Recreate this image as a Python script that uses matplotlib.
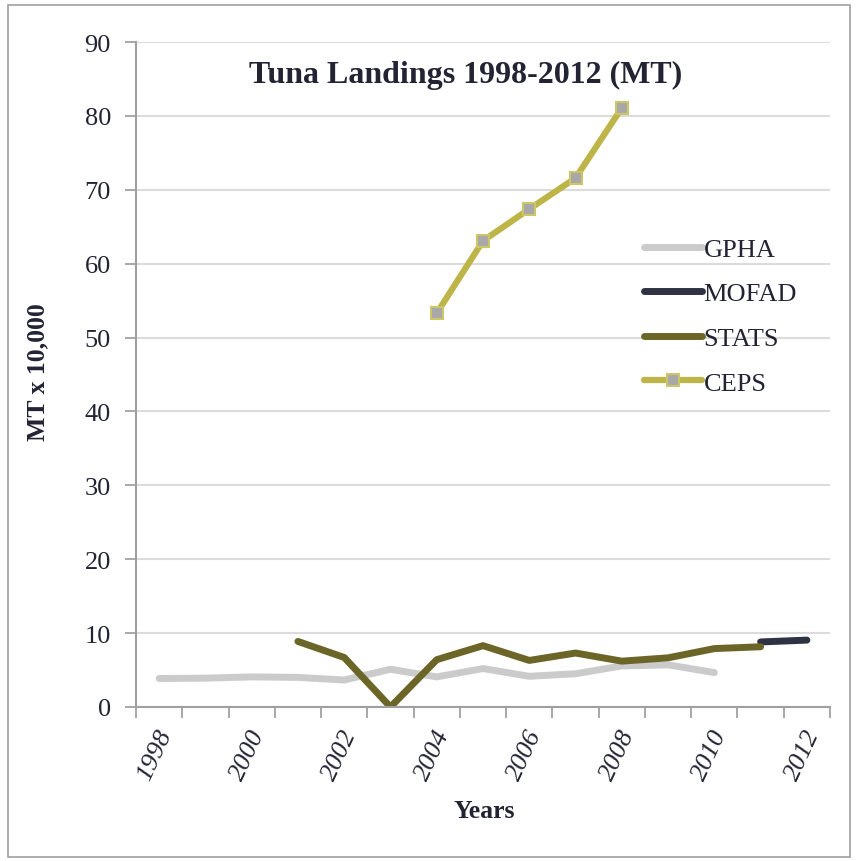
import numpy as np
import matplotlib.pyplot as plt
from matplotlib.patches import Rectangle

plt.rcParams['font.family'] = ['Liberation Serif', 'DejaVu Serif']

years = list(range(1998, 2013))
gpha = [3.85, 3.9, 4.07, 4.0, 3.65, 5.1, 4.07, 5.2, 4.15, 4.5, 5.55, 5.7, 4.65, None, None]
mofad = [None] * 13 + [8.8, 9.05]
stats = [None, None, None, 8.87, 6.7, 0.0, 6.4, 8.3, 6.3, 7.3, 6.2, 6.65, 7.9, 8.15, None]
ceps = [None] * 6 + [53.3, 63.1, 67.4, 71.6, 81.1, None, None, None, None]

def arr(v):
    return np.array([np.nan if a is None else a for a in v], dtype=float)

x = np.arange(len(years))

fig = plt.figure(figsize=(8.58, 8.62), dpi=100)
fig.patches.append(Rectangle((8 / 858, 4 / 862), 842 / 858, 852 / 862, transform=fig.transFigure,
                             fill=False, edgecolor='#a0a0a0', linewidth=1.2))
ax = fig.add_axes([0.1585, 0.1787, 0.8089, 0.7713])

ax.plot(x, arr(gpha), color='#cbcbcb', lw=5, solid_capstyle='round', label='GPHA')
ax.plot(x, arr(mofad), color='#2f3242', lw=5, solid_capstyle='round', label='MOFAD')
ax.plot(x, arr(stats), color='#6b6628', lw=5, solid_capstyle='round', label='STATS')
ax.plot(x, arr(ceps), color='#bdb548', lw=4.5, solid_capstyle='round', marker='s', ms=8,
        mfc='#a8a8a8', mec='#cdc568', mew=1.5, label='CEPS')

ax.set_xlim(-0.5, 14.5)
ax.set_ylim(0, 90)
ax.set_yticks(range(0, 91, 10))
ax.set_xticks(np.arange(-0.5, 15, 1))
ax.set_xticklabels([])
ax.tick_params(axis='both', colors='#9a9a9a', length=8, width=1.2, labelsize=19, labelcolor='#222433')
ax.tick_params(axis='y', pad=10)
for i, yr in enumerate(years):
    if yr % 2 == 0:
        ax.text(i + 0.15, -3.2, str(yr), rotation=65, rotation_mode='anchor', ha='right', va='center',
                fontsize=19, color='#222433', style='italic')

ax.grid(axis='y', color='#dcdcdc', lw=1.5)
ax.set_axisbelow(True)
for s in ['top', 'right']:
    ax.spines[s].set_visible(False)
for s in ['left', 'bottom']:
    ax.spines[s].set_color('#a0a0a0')
    ax.spines[s].set_linewidth(1.5)

fig.text(38 / 858, 1 - 372 / 862, 'MT x 10,000', rotation=90, ha='center', va='center',
         fontsize=18.5, fontweight='bold', color='#222433')
fig.text(484 / 858, 1 - 812 / 862, 'Years', ha='center', va='center', fontsize=18.5,
         fontweight='bold', color='#222433')
fig.text(466 / 858, 1 - 75 / 862, 'Tuna Landings 1998-2012 (MT)', ha='center', va='center',
         fontsize=23, fontweight='bold', color='#222433')

ax.legend(loc='upper left', bbox_to_anchor=(0.698, 0.742), frameon=False, fontsize=19,
          handlelength=2.2, handletextpad=0.05, labelspacing=0.8, labelcolor='#222433')

fig.savefig('out.png', dpi=100)
